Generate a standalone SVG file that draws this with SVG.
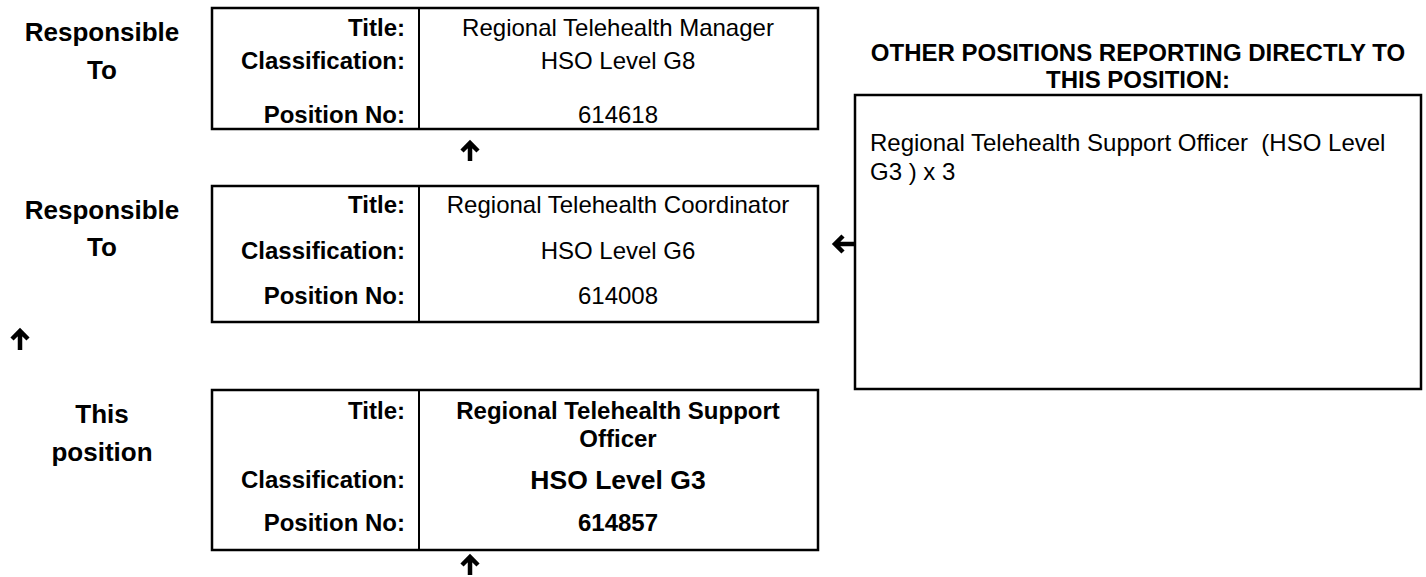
<svg xmlns="http://www.w3.org/2000/svg" width="1426" height="577" viewBox="0 0 1426 577">
<style>
  text { font-family: "Liberation Sans", Arial, sans-serif; fill: #000; }
  .lbl { font-size: 24px; font-weight: bold; text-anchor: end; }
  .val { font-size: 24px; text-anchor: middle; }
  .valb { font-size: 24px; font-weight: bold; text-anchor: middle; }
  .side { font-size: 26px; font-weight: bold; text-anchor: middle; }
  .hdr { font-size: 24px; font-weight: bold; text-anchor: middle; }
  .body { font-size: 24px; white-space: pre; }
  .box { fill: #fff; stroke: #000; stroke-width: 2.5; }
  .div { stroke: #000; stroke-width: 2; }
  .arr { fill: none; stroke: #000; stroke-width: 4.5; stroke-linejoin: miter; }
</style>
<rect width="1426" height="577" fill="#fff"/>

<g id="label-responsible-1">
  <text class="side" x="102" y="41">Responsible</text>
  <text class="side" x="102" y="79">To</text>
</g>
<g id="node-manager">
  <rect class="box" x="212" y="8" width="606" height="121"/>
  <line class="div" x1="419" y1="8" x2="419" y2="129"/>
  <text class="lbl" x="405" y="36">Title:</text>
  <text class="lbl" x="405" y="69">Classification:</text>
  <text class="lbl" x="405" y="123">Position No:</text>
  <text class="val" x="618" y="36">Regional Telehealth Manager</text>
  <text class="val" x="618" y="69">HSO Level G8</text>
  <text class="val" x="618" y="123">614618</text>
</g>

<g id="label-responsible-2">
  <text class="side" x="102" y="219">Responsible</text>
  <text class="side" x="102" y="256">To</text>
</g>
<g id="node-coordinator">
  <rect class="box" x="212" y="186" width="606" height="136"/>
  <line class="div" x1="419" y1="186" x2="419" y2="322"/>
  <text class="lbl" x="405" y="213">Title:</text>
  <text class="lbl" x="405" y="259">Classification:</text>
  <text class="lbl" x="405" y="304">Position No:</text>
  <text class="val" x="618" y="213">Regional Telehealth Coordinator</text>
  <text class="val" x="618" y="259">HSO Level G6</text>
  <text class="val" x="618" y="304">614008</text>
</g>

<g id="label-this-position">
  <text class="side" x="102" y="423">This</text>
  <text class="side" x="102" y="461">position</text>
</g>
<g id="node-this-position">
  <rect class="box" x="212" y="390" width="606" height="160"/>
  <line class="div" x1="419" y1="390" x2="419" y2="550"/>
  <text class="lbl" x="405" y="419">Title:</text>
  <text class="lbl" x="405" y="488">Classification:</text>
  <text class="lbl" x="405" y="531">Position No:</text>
  <text class="valb" x="618" y="419">Regional Telehealth Support</text>
  <text class="valb" x="618" y="447">Officer</text>
  <text class="valb" x="618" y="489" style="font-size:26.5px">HSO Level G3</text>
  <text class="valb" x="618" y="531">614857</text>
</g>

<g id="node-other-positions">
  <text class="hdr" x="1138" y="61">OTHER POSITIONS REPORTING DIRECTLY TO</text>
  <text class="hdr" x="1138" y="88">THIS POSITION:</text>
  <rect class="box" x="855" y="95" width="566" height="294"/>
  <text class="body" x="870" y="151">Regional Telehealth Support Officer  (HSO Level</text>
  <text class="body" x="870" y="180">G3 ) x 3</text>
</g>

<g id="connectors">
  <path class="arr" d="M470,161 V144 M462,151 L470,143 L478,151"/>
  <path class="arr" d="M20,350 V332 M12,339 L20,331 L28,339"/>
  <path class="arr" d="M470,575 V558 M462,565 L470,557 L478,565"/>
  <path class="arr" d="M854,244 H836 M843,236 L835,244 L843,252"/>
</g>
</svg>
